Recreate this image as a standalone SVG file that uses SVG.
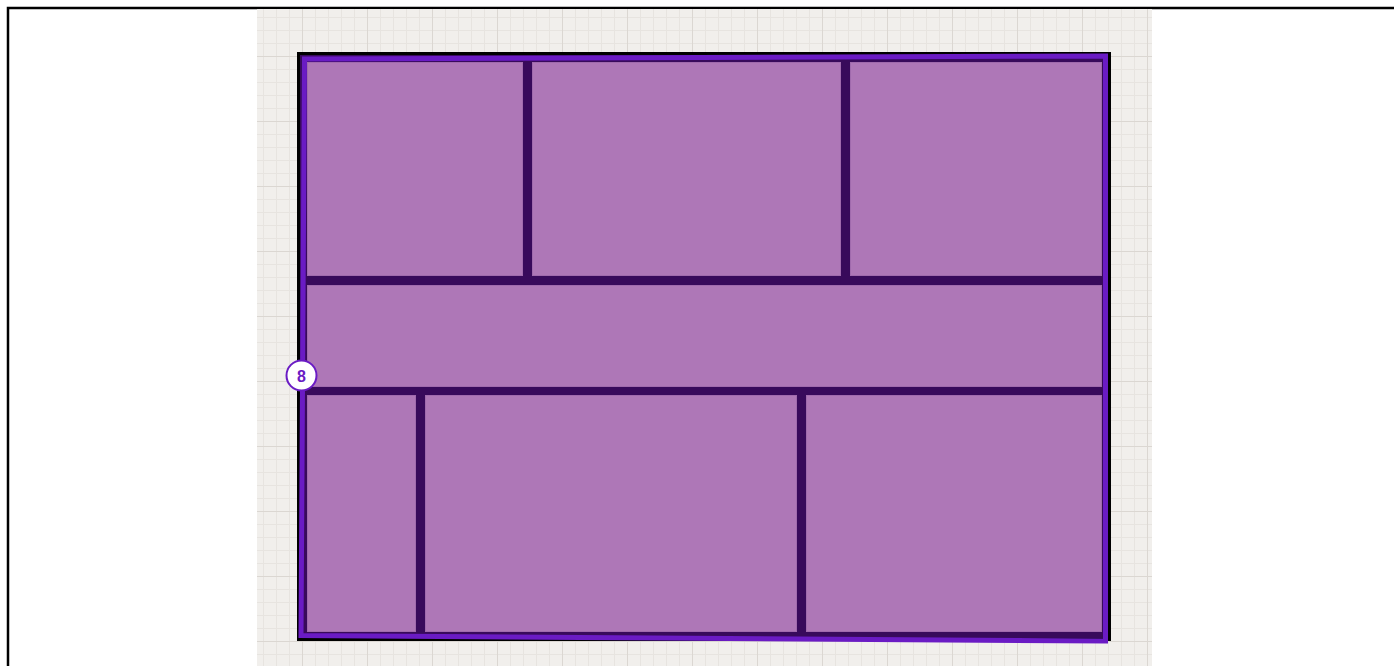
<svg xmlns="http://www.w3.org/2000/svg" width="1394" height="666" viewBox="0 0 1394 666">
  <style>
    .panel { fill: #ae77b7; stroke: #a06aad; stroke-width: 1; }
    .badge-text { font-family: "Liberation Sans", Arial, sans-serif; font-weight: bold; font-size: 16px; fill: #6a1bc4; }
  </style>
  <defs>
    <pattern id="minor" x="302" y="56" width="13" height="13" patternUnits="userSpaceOnUse">
      <path d="M0 0.5 H13 M0.5 0 V13" stroke="#e7e4e0" stroke-width="1" fill="none"/>
    </pattern>
    <pattern id="major" x="302" y="56" width="65" height="65" patternUnits="userSpaceOnUse">
      <path d="M0 0.5 H65 M0.5 0 V65" stroke="#dbd7d2" stroke-width="1" fill="none"/>
    </pattern>
  </defs>
  <rect x="0" y="0" width="1394" height="666" fill="#ffffff"/>
  <rect x="8" y="8" width="1400" height="700" fill="none" stroke="#000000" stroke-width="2.5"/>
  <g id="grid">
    <rect x="257" y="9" width="895" height="657" fill="#f1efec"/>
    <rect x="257" y="9" width="895" height="657" fill="url(#minor)"/>
    <rect x="257" y="9" width="895" height="657" fill="url(#major)"/>
  </g>
  <g id="frame">
    <rect x="298.5" y="53.5" width="811" height="586" fill="#380a5b" stroke="#000000" stroke-width="3"/>
  </g>
  <g id="panels">
    <rect id="panel-a" class="panel" x="307.5" y="62.5" width="215" height="213"/>
    <rect id="panel-b" class="panel" x="532.5" y="62.5" width="308" height="213"/>
    <rect id="panel-c" class="panel" x="850.5" y="62.5" width="251" height="213"/>
    <rect id="panel-mid" class="panel" x="307.5" y="285.5" width="794" height="101"/>
    <rect id="panel-d" class="panel" x="307.5" y="395.5" width="108" height="236"/>
    <rect id="panel-e" class="panel" x="425.5" y="395.5" width="371" height="236"/>
    <rect id="panel-f" class="panel" x="806.5" y="395.5" width="295" height="236"/>
  </g>
  <g id="connectors">
    <polygon points="304.5,59 1105.5,56 1105.5,641 301,635.5" fill="none" stroke="#6a1bc4" stroke-width="5" stroke-linejoin="miter"/>
  </g>
  <g id="badge-8">
    <circle cx="301.5" cy="375.5" r="15" fill="#ffffff" stroke="#6a1bc4" stroke-width="2"/>
    <text class="badge-text" x="301.5" y="381.5" text-anchor="middle">8</text>
  </g>
</svg>
